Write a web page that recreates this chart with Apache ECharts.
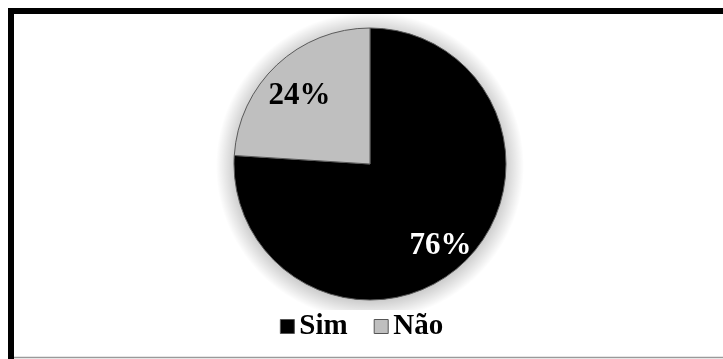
<!DOCTYPE html>
<html>
<head>
<meta charset="utf-8">
<script src="https://cdn.jsdelivr.net/npm/echarts@6/dist/echarts.min.js"></script>
<style>
html,body{margin:0;padding:0;background:#fff;}
#chart{width:723px;height:359px;}
</style>
</head>
<body>
<div id="chart"></div>
<script>
var categories = ['Sim', 'Não'];
var values = [76, 24];
var colors = ['#000000', '#bfbfbf'];
var labelColors = ['#ffffff', '#000000'];

var FONT = '"Liberation Serif", "Times New Roman", serif';
var pieData = categories.map(function (c, i) {
  return { name: c, value: values[i], itemStyle: { color: colors[i] } };
});
var labelData = categories.map(function (c, i) {
  return { name: c, value: values[i], label: { color: labelColors[i] } };
});

var chart = echarts.init(document.getElementById('chart'), null, { renderer: 'canvas' });
chart.setOption({
  backgroundColor: '#ffffff',
  animation: false,
  graphic: [
    { type: 'line', shape: { x1: 11, y1: 8, x2: 11, y2: 359 }, style: { stroke: '#000', lineWidth: 6 } },
    { type: 'line', shape: { x1: 8, y1: 11, x2: 723, y2: 11 }, style: { stroke: '#000', lineWidth: 6 } },
    { type: 'line', shape: { x1: 14, y1: 357.5, x2: 723, y2: 357.5 }, style: { stroke: '#9a9a9a', lineWidth: 1.5 } }
  ],
  legend: {
    data: categories,
    bottom: 16,
    left: 'center',
    itemWidth: 14,
    itemHeight: 14,
    itemGap: 26,
    icon: 'rect',
    backgroundColor: '#ffffff',
    padding: [2, 8, 2, 8],
    textStyle: { fontFamily: FONT, fontWeight: 'bold', fontSize: 29, color: '#000' },
    itemStyle: { borderColor: '#555', borderWidth: 1 }
  },
  series: [
    {
      type: 'pie',
      z: 1,
      center: [370, 166],
      radius: 154,
      silent: true,
      legendHoverLink: false,
      data: [{ name: '_glow', value: 1 }],
      itemStyle: {
        color: {
          type: 'radial', x: 0.5, y: 0.5, r: 0.5,
          colorStops: [
            { offset: 0, color: 'rgba(0,0,0,0.25)' },
            { offset: 0.86, color: 'rgba(0,0,0,0.22)' },
            { offset: 1, color: 'rgba(0,0,0,0)' }
          ]
        }
      },
      label: { show: false },
      labelLine: { show: false }
    },
    {
      type: 'pie',
      z: 2,
      center: [370, 164],
      radius: 136,
      startAngle: 90,
      clockwise: true,
      silent: true,
      data: pieData,
      label: { show: false },
      labelLine: { show: false },
      itemStyle: {
        borderColor: '#5a5a5a',
        borderWidth: 1
      }
    },
    {
      type: 'pie',
      z: 3,
      center: [370, 171],
      radius: [64, 136],
      startAngle: 90,
      clockwise: true,
      silent: true,
      legendHoverLink: false,
      data: labelData,
      itemStyle: { color: 'rgba(0,0,0,0)' },
      label: {
        show: true,
        position: 'inside',
        formatter: '{d}%',
        fontFamily: FONT,
        fontWeight: 'bold',
        fontSize: 31
      },
      labelLine: { show: false }
    }
  ]
});
</script>
</body>
</html>
